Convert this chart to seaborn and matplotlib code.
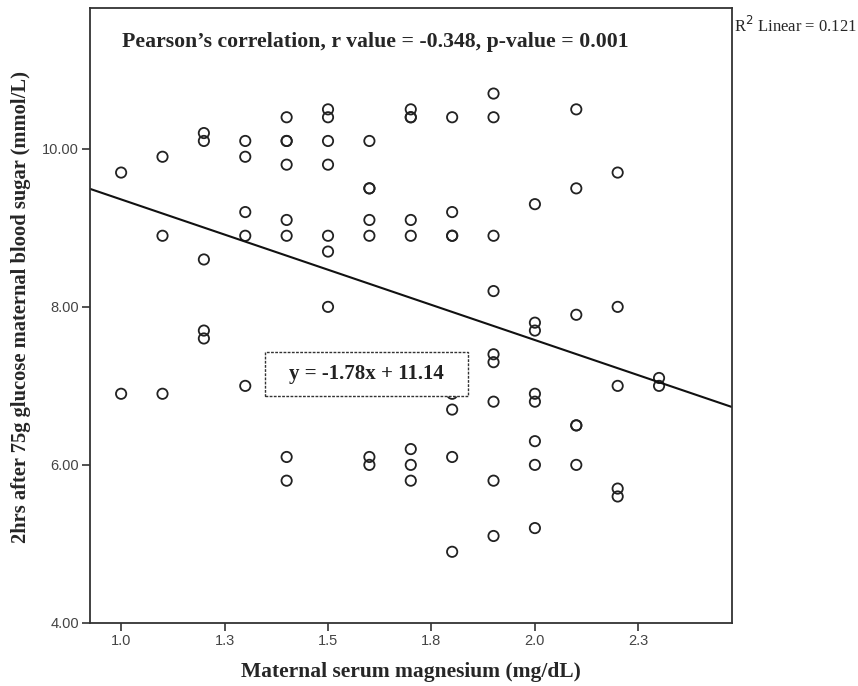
import numpy as np
import pandas as pd
import seaborn as sns
import matplotlib.pyplot as plt
from matplotlib.patches import Rectangle

# 読み取った値 (マグネシウム mg/dL ごとの血糖値 mmol/L)
mg_1_0 = [9.7, 6.9]
mg_1_1 = [9.9, 8.9, 6.9]
mg_1_2 = [10.2, 10.1, 8.6, 7.7, 7.6]
mg_1_3 = [10.1, 9.9, 9.2, 8.9, 7.0]
mg_1_4 = [10.4, 10.1, 10.1, 9.8, 9.1, 8.9, 6.1, 5.8]
mg_1_5 = [10.5, 10.4, 10.1, 9.8, 8.9, 8.7, 8.0]
mg_1_6 = [10.1, 9.5, 9.5, 9.1, 8.9, 6.1, 6.0]
mg_1_7 = [10.5, 10.4, 10.4, 9.1, 8.9, 6.2, 6.0, 5.8]
mg_1_8 = [10.4, 9.2, 8.9, 8.9, 6.9, 6.7, 6.1, 4.9]
mg_1_9 = [10.7, 10.4, 8.9, 8.2, 7.4, 7.3, 6.8, 5.8, 5.1]
mg_2_0 = [9.3, 7.8, 7.7, 6.9, 6.8, 6.3, 6.0, 5.2]
mg_2_1 = [10.5, 9.5, 7.9, 6.5, 6.5, 6.0]
mg_2_2 = [9.7, 8.0, 7.0, 5.7, 5.6]
mg_2_3 = [7.1, 7.0]

magnesium_levels = [1.0, 1.1, 1.2, 1.3, 1.4, 1.5, 1.6, 1.7, 1.8, 1.9, 2.0, 2.1, 2.2, 2.3]
sugar_groups = [mg_1_0, mg_1_1, mg_1_2, mg_1_3, mg_1_4, mg_1_5, mg_1_6,
                mg_1_7, mg_1_8, mg_1_9, mg_2_0, mg_2_1, mg_2_2, mg_2_3]

# 回帰直線
slope = -1.78
intercept = 11.14
r2_text = 'R$^2$ Linear = 0.121'
title_text = 'Pearson\u2019s correlation, r value = -0.348, p-value = 0.001'
eq_text = 'y = -1.78x + 11.14'

x_ticks = [1.0, 1.25, 1.5, 1.75, 2.0, 2.25]
x_tick_labels = ['1.0', '1.3', '1.5', '1.8', '2.0', '2.3']
y_ticks = [4.0, 6.0, 8.0, 10.0]
y_tick_labels = ['4.00', '6.00', '8.00', '10.00']

rows = []
for mg, vals in zip(magnesium_levels, sugar_groups):
    for v in vals:
        rows.append((mg, v))
data = pd.DataFrame(rows, columns=['magnesium', 'sugar'])

sns.set_style('white')
serif = ['Liberation Serif', 'DejaVu Serif']
sans = ['Liberation Sans', 'DejaVu Sans']

fig = plt.figure(figsize=(8.58, 6.86), dpi=100)
ax = fig.add_axes([0.105, 0.092, 0.748, 0.896])

sns.scatterplot(data=data, x='magnesium', y='sugar', ax=ax, marker='o',
                s=55, facecolor='none', edgecolor='#222222', linewidth=1.3, zorder=2)

ax.axline((0, intercept), slope=slope, color='#111111', linewidth=1.5, zorder=2)

ax.set_xlim(0.925, 2.476)
ax.set_ylim(4.0, 11.78)
ax.set_xticks(x_ticks)
ax.set_xticklabels(x_tick_labels, family=sans, fontsize=10.5, color='#444444')
ax.set_yticks(y_ticks)
ax.set_yticklabels(y_tick_labels, family=sans, fontsize=10.5, color='#444444')
ax.tick_params(axis='both', direction='out', length=6, width=1.2, color='#333333',
               bottom=True, left=True, pad=2)

for side in ['top', 'right', 'bottom', 'left']:
    ax.spines[side].set_color('#333333')
    ax.spines[side].set_linewidth(1.3)

ax.set_xlabel('Maternal serum magnesium (mg/dL)', family=serif, fontsize=15.5,
              fontweight='bold', labelpad=10)
ax.set_ylabel('2hrs after 75g glucose maternal blood sugar (mmol/L)', family=serif,
              fontsize=14.8, fontweight='bold')
ax.yaxis.set_label_coords(-0.092, 0.514)

ax.text(0.05, 0.945, title_text, transform=ax.transAxes, family=serif,
        fontsize=15.7, fontweight='bold', va='center', ha='left')

# 回帰式の点線ボックス
ax.add_patch(Rectangle((1.348, 6.87), 0.49, 0.56, facecolor='white',
                       edgecolor='#333333', linestyle=(0, (2, 1)), linewidth=1, zorder=3))
ax.text(1.593, 7.15, eq_text, family=serif, fontsize=15, fontweight='bold',
        ha='center', va='center', color='#222222', zorder=4)

fig.text(0.855, 0.962, r2_text, family=serif, fontsize=12, ha='left', va='center')

plt.savefig('out.png', dpi=100)
